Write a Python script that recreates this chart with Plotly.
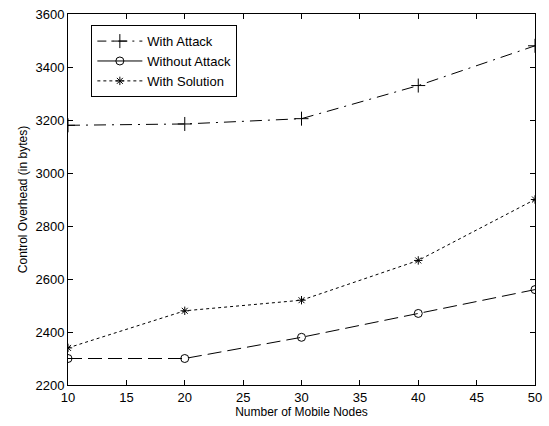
import plotly.graph_objects as go

nodes = [10, 20, 30, 40, 50]
with_attack = [3180, 3185, 3205, 3330, 3480]
without_attack = [2300, 2300, 2380, 2470, 2560]
with_solution = [2340, 2480, 2520, 2670, 2900]

names = ["With Attack", "Without Attack", "With Solution"]
x_ticks = [10, 15, 20, 25, 30, 35, 40, 45, 50]
y_ticks = [2200, 2400, 2600, 2800, 3000, 3200, 3400, 3600]

black = "#000000"
fig = go.Figure()

# data traces
fig.add_trace(go.Scatter(x=nodes, y=with_attack, mode="lines+markers", showlegend=False,
                         line=dict(color=black, width=1, dash="12px,6px,2px,6px"),
                         marker=dict(symbol="cross-thin-open", size=10, line=dict(color=black, width=1))))
fig.add_trace(go.Scatter(x=nodes, y=without_attack, mode="lines+markers", showlegend=False,
                         line=dict(color=black, width=1, dash="14px,6px"),
                         marker=dict(symbol="circle-open", size=8, color=black, line=dict(color=black, width=1))))
fig.add_trace(go.Scatter(x=nodes, y=with_solution, mode="lines+markers", showlegend=False,
                         line=dict(color=black, width=1, dash="3px,3px"),
                         marker=dict(symbol="asterisk-open", size=7, line=dict(color=black, width=1))))

# legend entries
fig.add_trace(go.Scatter(x=[None], y=[None], mode="lines+markers", name=names[0],
                         line=dict(color=black, width=1, dash="9px,5px,2px,5px"),
                         marker=dict(symbol="cross-thin-open", size=10, line=dict(color=black, width=1))))
fig.add_trace(go.Scatter(x=[None], y=[None], mode="lines+markers", name=names[1],
                         line=dict(color=black, width=1),
                         marker=dict(symbol="circle-open", size=8, color=black, line=dict(color=black, width=1))))
fig.add_trace(go.Scatter(x=[None], y=[None], mode="lines+markers", name=names[2],
                         line=dict(color=black, width=1, dash="3px,3px"),
                         marker=dict(symbol="asterisk-open", size=7, line=dict(color=black, width=1))))

axis_common = dict(showline=True, linecolor=black, linewidth=1, mirror="ticks",
                   ticks="inside", ticklen=5, tickcolor=black, showgrid=False, zeroline=False,
                   tickfont=dict(size=13, color=black))

fig.update_layout(
    width=549, height=426,
    margin=dict(l=68, r=7, t=12, b=41),
    paper_bgcolor="white", plot_bgcolor="white",
    font=dict(family="Liberation Sans, Arial, sans-serif", size=12, color=black),
    xaxis=dict(range=[10, 50], tickvals=x_ticks, title=dict(text="Number of Mobile Nodes", standoff=3, font=dict(size=12)), **axis_common),
    yaxis=dict(range=[2200, 3600], tickvals=y_ticks, title=dict(text="Control Overhead (in bytes)", standoff=5, font=dict(size=12)), **axis_common),
    legend=dict(x=0.05, y=0.97, xanchor="left", yanchor="top", bordercolor=black, borderwidth=1,
                bgcolor="white", font=dict(size=13), tracegroupgap=0, itemwidth=45),
)

fig.write_html("out.html", config={"displayModeBar": False},
               post_script="document.body.style.margin='0';")
